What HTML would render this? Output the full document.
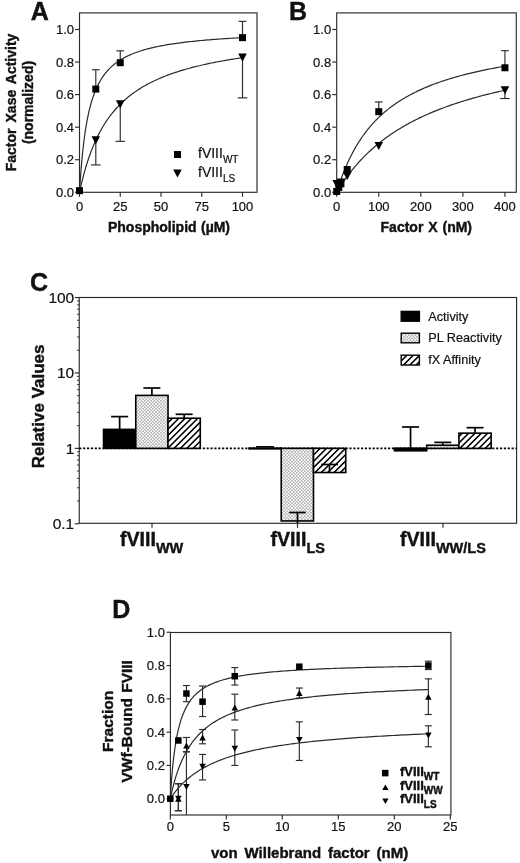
<!DOCTYPE html>
<html><head><meta charset="utf-8"><title>Figure</title>
<style>
html,body{margin:0;padding:0;background:#fff;}
svg{display:block;font-family:"Liberation Sans", sans-serif;fill:#111;will-change:transform;}
</style></head>
<body>
<svg width="520" height="863" viewBox="0 0 520 863">
<rect width="520" height="863" fill="#fff"/>
<rect x="79.50" y="12.90" width="177.50" height="179.40" fill="none" stroke="#2b2b2b" stroke-width="1.15"/>
<line x1="75.00" y1="192.30" x2="79.50" y2="192.30" stroke="#2b2b2b" stroke-width="1.15" />
<text x="74.00" y="196.80" font-size="13" stroke="#111" stroke-width="0.2" text-anchor="end" >0.0</text>
<line x1="75.00" y1="159.74" x2="79.50" y2="159.74" stroke="#2b2b2b" stroke-width="1.15" />
<text x="74.00" y="164.24" font-size="13" stroke="#111" stroke-width="0.2" text-anchor="end" >0.2</text>
<line x1="75.00" y1="127.18" x2="79.50" y2="127.18" stroke="#2b2b2b" stroke-width="1.15" />
<text x="74.00" y="131.68" font-size="13" stroke="#111" stroke-width="0.2" text-anchor="end" >0.4</text>
<line x1="75.00" y1="94.62" x2="79.50" y2="94.62" stroke="#2b2b2b" stroke-width="1.15" />
<text x="74.00" y="99.12" font-size="13" stroke="#111" stroke-width="0.2" text-anchor="end" >0.6</text>
<line x1="75.00" y1="62.06" x2="79.50" y2="62.06" stroke="#2b2b2b" stroke-width="1.15" />
<text x="74.00" y="66.56" font-size="13" stroke="#111" stroke-width="0.2" text-anchor="end" >0.8</text>
<line x1="75.00" y1="29.50" x2="79.50" y2="29.50" stroke="#2b2b2b" stroke-width="1.15" />
<text x="74.00" y="34.00" font-size="13" stroke="#111" stroke-width="0.2" text-anchor="end" >1.0</text>
<line x1="79.50" y1="192.30" x2="79.50" y2="196.80" stroke="#2b2b2b" stroke-width="1.15" />
<text x="79.50" y="211.30" font-size="13" stroke="#111" stroke-width="0.2" text-anchor="middle" >0</text>
<line x1="120.25" y1="192.30" x2="120.25" y2="196.80" stroke="#2b2b2b" stroke-width="1.15" />
<text x="120.25" y="211.30" font-size="13" stroke="#111" stroke-width="0.2" text-anchor="middle" >25</text>
<line x1="161.00" y1="192.30" x2="161.00" y2="196.80" stroke="#2b2b2b" stroke-width="1.15" />
<text x="161.00" y="211.30" font-size="13" stroke="#111" stroke-width="0.2" text-anchor="middle" >50</text>
<line x1="201.75" y1="192.30" x2="201.75" y2="196.80" stroke="#2b2b2b" stroke-width="1.15" />
<text x="201.75" y="211.30" font-size="13" stroke="#111" stroke-width="0.2" text-anchor="middle" >75</text>
<line x1="242.50" y1="192.30" x2="242.50" y2="196.80" stroke="#2b2b2b" stroke-width="1.15" />
<text x="242.50" y="211.30" font-size="13" stroke="#111" stroke-width="0.2" text-anchor="middle" >100</text>
<text x="30.80" y="20.30" font-size="25" font-weight="bold" stroke="#111" stroke-width="0.4" text-anchor="start" >A</text>
<text x="15.80" y="102.50" font-size="14" font-weight="bold" stroke="#111" stroke-width="0.4" text-anchor="middle" transform="rotate(-90 15.80 102.50)" word-spacing="2.2">Factor Xase Activity</text>
<text x="33.10" y="102.50" font-size="14" font-weight="bold" stroke="#111" stroke-width="0.4" text-anchor="middle" transform="rotate(-90 33.10 102.50)" >(normalized)</text>
<text x="169.00" y="232.40" font-size="14" font-weight="bold" stroke="#111" stroke-width="0.4" text-anchor="middle" word-spacing="0.5">Phospholipid (µM)</text>
<polyline points="79.50,192.30 79.51,192.16 79.53,191.74 79.57,191.05 79.63,190.09 79.71,188.88 79.80,187.41 79.91,185.72 80.03,183.81 80.17,181.70 80.33,179.41 80.51,176.96 80.70,174.36 80.91,171.64 81.13,168.81 81.37,165.90 81.63,162.91 81.90,159.87 82.19,156.80 82.50,153.70 82.83,150.59 83.17,147.48 83.53,144.39 83.90,141.32 84.29,138.28 84.70,135.28 85.12,132.33 85.56,129.43 86.02,126.59 86.49,123.81 86.98,121.09 87.49,118.44 88.02,115.86 88.56,113.34 89.11,110.90 89.69,108.52 90.28,106.21 90.89,103.98 91.51,101.81 92.15,99.71 92.81,97.68 93.48,95.71 94.17,93.80 94.88,91.96 95.60,90.18 96.34,88.46 97.10,86.80 97.87,85.19 98.66,83.64 99.47,82.14 100.29,80.69 101.13,79.29 101.99,77.93 102.86,76.63 103.75,75.36 104.66,74.14 105.58,72.96 106.52,71.82 107.48,70.72 108.45,69.66 109.44,68.63 110.45,67.63 111.47,66.67 112.51,65.74 113.56,64.83 114.64,63.96 115.73,63.12 116.83,62.30 117.95,61.51 119.09,60.75 120.25,60.01 121.42,59.29 122.61,58.59 123.82,57.92 125.04,57.26 126.28,56.63 127.54,56.02 128.81,55.42 130.10,54.84 131.40,54.28 132.72,53.74 134.06,53.21 135.42,52.70 136.79,52.20 138.18,51.71 139.59,51.24 141.01,50.79 142.45,50.34 143.90,49.91 145.37,49.49 146.86,49.08 148.37,48.69 149.89,48.30 151.43,47.93 152.98,47.56 154.55,47.20 156.14,46.86 157.75,46.52 159.37,46.19 161.01,45.87 162.66,45.56 164.33,45.26 166.02,44.96 167.73,44.67 169.45,44.39 171.19,44.11 172.94,43.85 174.71,43.58 176.50,43.33 178.31,43.08 180.13,42.84 181.97,42.60 183.82,42.37 185.69,42.14 187.58,41.92 189.48,41.71 191.40,41.50 193.34,41.29 195.30,41.09 197.27,40.89 199.26,40.70 201.26,40.51 203.28,40.33 205.32,40.15 207.37,39.97 209.44,39.80 211.53,39.63 213.63,39.47 215.75,39.31 217.89,39.15 220.05,38.99 222.22,38.84 224.40,38.69 226.61,38.55 228.83,38.41 231.07,38.27 233.32,38.13 235.59,38.00 237.88,37.87 240.18,37.74 242.50,37.61" fill="none" stroke="#2b2b2b" stroke-width="1.2" stroke-linejoin="round"/>
<polyline points="79.50,192.30 79.51,192.26 79.53,192.14 79.57,191.95 79.63,191.68 79.71,191.33 79.80,190.91 79.91,190.41 80.03,189.84 80.17,189.20 80.33,188.49 80.51,187.71 80.70,186.87 80.91,185.96 81.13,184.99 81.37,183.97 81.63,182.89 81.90,181.75 82.19,180.56 82.50,179.33 82.83,178.05 83.17,176.73 83.53,175.37 83.90,173.97 84.29,172.54 84.70,171.08 85.12,169.59 85.56,168.07 86.02,166.53 86.49,164.97 86.98,163.39 87.49,161.80 88.02,160.19 88.56,158.58 89.11,156.95 89.69,155.32 90.28,153.68 90.89,152.04 91.51,150.40 92.15,148.76 92.81,147.13 93.48,145.50 94.17,143.87 94.88,142.25 95.60,140.64 96.34,139.04 97.10,137.45 97.87,135.87 98.66,134.31 99.47,132.76 100.29,131.22 101.13,129.70 101.99,128.19 102.86,126.70 103.75,125.23 104.66,123.77 105.58,122.33 106.52,120.91 107.48,119.51 108.45,118.13 109.44,116.77 110.45,115.42 111.47,114.10 112.51,112.79 113.56,111.51 114.64,110.24 115.73,108.99 116.83,107.77 117.95,106.56 119.09,105.37 120.25,104.20 121.42,103.05 122.61,101.92 123.82,100.81 125.04,99.71 126.28,98.64 127.54,97.58 128.81,96.54 130.10,95.52 131.40,94.52 132.72,93.54 134.06,92.57 135.42,91.62 136.79,90.68 138.18,89.77 139.59,88.87 141.01,87.98 142.45,87.11 143.90,86.26 145.37,85.42 146.86,84.60 148.37,83.79 149.89,83.00 151.43,82.22 152.98,81.45 154.55,80.70 156.14,79.96 157.75,79.24 159.37,78.53 161.01,77.83 162.66,77.14 164.33,76.47 166.02,75.81 167.73,75.16 169.45,74.52 171.19,73.89 172.94,73.28 174.71,72.67 176.50,72.08 178.31,71.50 180.13,70.93 181.97,70.36 183.82,69.81 185.69,69.27 187.58,68.74 189.48,68.21 191.40,67.70 193.34,67.19 195.30,66.70 197.27,66.21 199.26,65.73 201.26,65.26 203.28,64.79 205.32,64.34 207.37,63.89 209.44,63.45 211.53,63.02 213.63,62.60 215.75,62.18 217.89,61.77 220.05,61.37 222.22,60.97 224.40,60.58 226.61,60.20 228.83,59.82 231.07,59.45 233.32,59.08 235.59,58.73 237.88,58.37 240.18,58.03 242.50,57.68" fill="none" stroke="#2b2b2b" stroke-width="1.2" stroke-linejoin="round"/>
<line x1="95.80" y1="69.71" x2="95.80" y2="89.08" stroke="#2b2b2b" stroke-width="1.15" />
<line x1="91.95" y1="69.71" x2="99.65" y2="69.71" stroke="#2b2b2b" stroke-width="1.15" />
<line x1="120.25" y1="50.83" x2="120.25" y2="62.71" stroke="#2b2b2b" stroke-width="1.15" />
<line x1="116.40" y1="50.83" x2="124.10" y2="50.83" stroke="#2b2b2b" stroke-width="1.15" />
<line x1="242.50" y1="21.36" x2="242.50" y2="37.64" stroke="#2b2b2b" stroke-width="1.15" />
<line x1="238.65" y1="21.36" x2="246.35" y2="21.36" stroke="#2b2b2b" stroke-width="1.15" />
<line x1="95.80" y1="140.20" x2="95.80" y2="164.95" stroke="#2b2b2b" stroke-width="1.15" />
<line x1="91.00" y1="164.95" x2="100.60" y2="164.95" stroke="#2b2b2b" stroke-width="1.15" />
<line x1="120.25" y1="104.39" x2="120.25" y2="141.34" stroke="#2b2b2b" stroke-width="1.15" />
<line x1="115.45" y1="141.34" x2="125.05" y2="141.34" stroke="#2b2b2b" stroke-width="1.15" />
<line x1="242.50" y1="57.66" x2="242.50" y2="97.88" stroke="#2b2b2b" stroke-width="1.15" />
<line x1="237.70" y1="97.88" x2="247.30" y2="97.88" stroke="#2b2b2b" stroke-width="1.15" />
<rect x="76.00" y="187.17" width="7" height="7" fill="#000"/>
<rect x="92.30" y="85.58" width="7" height="7" fill="#000"/>
<rect x="116.75" y="59.21" width="7" height="7" fill="#000"/>
<rect x="239.00" y="34.14" width="7" height="7" fill="#000"/>
<polygon points="91.50,136.15 100.10,136.15 95.80,144.25" fill="#000"/>
<polygon points="115.95,100.34 124.55,100.34 120.25,108.44" fill="#000"/>
<polygon points="238.20,53.61 246.80,53.61 242.50,61.71" fill="#000"/>
<rect x="174.00" y="151.00" width="7" height="7" fill="#000"/>
<polygon points="173.20,169.45 181.80,169.45 177.50,177.55" fill="#000"/>
<text x="198.00" y="158.00" font-size="14" stroke="#111" stroke-width="0.2" text-anchor="start">fVIII<tspan font-size="10" dy="4.5">WT</tspan></text>
<text x="198.00" y="177.00" font-size="14" stroke="#111" stroke-width="0.2" text-anchor="start">fVIII<tspan font-size="10" dy="4.5">LS</tspan></text>
<rect x="336.70" y="12.90" width="179.60" height="179.40" fill="none" stroke="#2b2b2b" stroke-width="1.15"/>
<line x1="332.20" y1="192.30" x2="336.70" y2="192.30" stroke="#2b2b2b" stroke-width="1.15" />
<text x="331.20" y="196.80" font-size="13" stroke="#111" stroke-width="0.2" text-anchor="end" >0.0</text>
<line x1="332.20" y1="159.74" x2="336.70" y2="159.74" stroke="#2b2b2b" stroke-width="1.15" />
<text x="331.20" y="164.24" font-size="13" stroke="#111" stroke-width="0.2" text-anchor="end" >0.2</text>
<line x1="332.20" y1="127.18" x2="336.70" y2="127.18" stroke="#2b2b2b" stroke-width="1.15" />
<text x="331.20" y="131.68" font-size="13" stroke="#111" stroke-width="0.2" text-anchor="end" >0.4</text>
<line x1="332.20" y1="94.62" x2="336.70" y2="94.62" stroke="#2b2b2b" stroke-width="1.15" />
<text x="331.20" y="99.12" font-size="13" stroke="#111" stroke-width="0.2" text-anchor="end" >0.6</text>
<line x1="332.20" y1="62.06" x2="336.70" y2="62.06" stroke="#2b2b2b" stroke-width="1.15" />
<text x="331.20" y="66.56" font-size="13" stroke="#111" stroke-width="0.2" text-anchor="end" >0.8</text>
<line x1="332.20" y1="29.50" x2="336.70" y2="29.50" stroke="#2b2b2b" stroke-width="1.15" />
<text x="331.20" y="34.00" font-size="13" stroke="#111" stroke-width="0.2" text-anchor="end" >1.0</text>
<line x1="336.70" y1="192.30" x2="336.70" y2="196.80" stroke="#2b2b2b" stroke-width="1.15" />
<text x="336.70" y="211.30" font-size="13" stroke="#111" stroke-width="0.2" text-anchor="middle" >0</text>
<line x1="378.76" y1="192.30" x2="378.76" y2="196.80" stroke="#2b2b2b" stroke-width="1.15" />
<text x="378.76" y="211.30" font-size="13" stroke="#111" stroke-width="0.2" text-anchor="middle" >100</text>
<line x1="420.82" y1="192.30" x2="420.82" y2="196.80" stroke="#2b2b2b" stroke-width="1.15" />
<text x="420.82" y="211.30" font-size="13" stroke="#111" stroke-width="0.2" text-anchor="middle" >200</text>
<line x1="462.88" y1="192.30" x2="462.88" y2="196.80" stroke="#2b2b2b" stroke-width="1.15" />
<text x="462.88" y="211.30" font-size="13" stroke="#111" stroke-width="0.2" text-anchor="middle" >300</text>
<line x1="504.94" y1="192.30" x2="504.94" y2="196.80" stroke="#2b2b2b" stroke-width="1.15" />
<text x="504.94" y="211.30" font-size="13" stroke="#111" stroke-width="0.2" text-anchor="middle" >400</text>
<text x="289.00" y="20.30" font-size="25" font-weight="bold" stroke="#111" stroke-width="0.4" text-anchor="start" >B</text>
<text x="426.30" y="232.40" font-size="14" font-weight="bold" stroke="#111" stroke-width="0.4" text-anchor="middle" word-spacing="1">Factor X (nM)</text>
<polyline points="336.70,192.30 336.71,192.27 336.73,192.19 336.78,192.05 336.84,191.85 336.91,191.60 337.01,191.29 337.12,190.93 337.25,190.52 337.40,190.05 337.56,189.53 337.74,188.96 337.94,188.34 338.15,187.67 338.38,186.95 338.63,186.19 338.90,185.39 339.18,184.54 339.48,183.65 339.80,182.72 340.13,181.75 340.49,180.74 340.85,179.70 341.24,178.63 341.64,177.53 342.06,176.39 342.50,175.23 342.96,174.04 343.43,172.83 343.92,171.59 344.43,170.33 344.95,169.06 345.49,167.76 346.05,166.45 346.62,165.12 347.21,163.78 347.82,162.43 348.45,161.07 349.09,159.70 349.76,158.33 350.43,156.94 351.13,155.56 351.84,154.16 352.57,152.77 353.32,151.38 354.08,149.98 354.86,148.59 355.66,147.20 356.48,145.81 357.31,144.43 358.16,143.05 359.03,141.67 359.91,140.31 360.81,138.95 361.73,137.60 362.67,136.25 363.62,134.92 364.59,133.59 365.58,132.28 366.58,130.97 367.60,129.68 368.64,128.40 369.70,127.13 370.77,125.87 371.86,124.62 372.97,123.39 374.09,122.17 375.23,120.96 376.39,119.77 377.57,118.59 378.76,117.43 379.97,116.27 381.20,115.13 382.44,114.01 383.70,112.90 384.98,111.80 386.28,110.72 387.59,109.65 388.92,108.60 390.27,107.56 391.64,106.53 393.02,105.52 394.42,104.52 395.83,103.54 397.27,102.57 398.72,101.61 400.18,100.67 401.67,99.74 403.17,98.82 404.69,97.92 406.23,97.03 407.78,96.15 409.35,95.29 410.94,94.44 412.55,93.60 414.17,92.77 415.81,91.96 417.46,91.16 419.14,90.37 420.83,89.59 422.54,88.83 424.26,88.07 426.00,87.33 427.76,86.60 429.54,85.88 431.33,85.17 433.15,84.48 434.97,83.79 436.82,83.11 438.68,82.45 440.56,81.79 442.46,81.14 444.37,80.51 446.30,79.88 448.25,79.27 450.22,78.66 452.20,78.06 454.20,77.47 456.22,76.89 458.25,76.32 460.30,75.76 462.37,75.21 464.46,74.66 466.56,74.13 468.68,73.60 470.82,73.08 472.97,72.57 475.15,72.06 477.33,71.57 479.54,71.08 481.76,70.59 484.00,70.12 486.26,69.65 488.54,69.19 490.83,68.74 493.14,68.29 495.46,67.85 497.81,67.42 500.17,66.99 502.55,66.57 504.94,66.16" fill="none" stroke="#2b2b2b" stroke-width="1.2" stroke-linejoin="round"/>
<polyline points="336.70,192.30 336.71,192.29 336.73,192.24 336.78,192.17 336.84,192.07 336.91,191.94 337.01,191.78 337.12,191.60 337.25,191.38 337.40,191.14 337.56,190.87 337.74,190.58 337.94,190.25 338.15,189.90 338.38,189.53 338.63,189.13 338.90,188.70 339.18,188.25 339.48,187.77 339.80,187.27 340.13,186.74 340.49,186.20 340.85,185.63 341.24,185.03 341.64,184.42 342.06,183.79 342.50,183.13 342.96,182.46 343.43,181.76 343.92,181.05 344.43,180.32 344.95,179.57 345.49,178.81 346.05,178.03 346.62,177.23 347.21,176.42 347.82,175.60 348.45,174.76 349.09,173.91 349.76,173.05 350.43,172.17 351.13,171.29 351.84,170.39 352.57,169.49 353.32,168.58 354.08,167.65 354.86,166.72 355.66,165.78 356.48,164.84 357.31,163.89 358.16,162.93 359.03,161.97 359.91,161.00 360.81,160.03 361.73,159.06 362.67,158.08 363.62,157.10 364.59,156.12 365.58,155.14 366.58,154.15 367.60,153.17 368.64,152.18 369.70,151.20 370.77,150.21 371.86,149.23 372.97,148.25 374.09,147.26 375.23,146.29 376.39,145.31 377.57,144.33 378.76,143.36 379.97,142.39 381.20,141.43 382.44,140.46 383.70,139.51 384.98,138.55 386.28,137.60 387.59,136.66 388.92,135.72 390.27,134.78 391.64,133.85 393.02,132.93 394.42,132.01 395.83,131.09 397.27,130.18 398.72,129.28 400.18,128.39 401.67,127.50 403.17,126.61 404.69,125.74 406.23,124.87 407.78,124.00 409.35,123.15 410.94,122.30 412.55,121.45 414.17,120.62 415.81,119.79 417.46,118.96 419.14,118.15 420.83,117.34 422.54,116.54 424.26,115.74 426.00,114.96 427.76,114.18 429.54,113.40 431.33,112.64 433.15,111.88 434.97,111.13 436.82,110.38 438.68,109.65 440.56,108.92 442.46,108.19 444.37,107.48 446.30,106.77 448.25,106.07 450.22,105.38 452.20,104.69 454.20,104.01 456.22,103.34 458.25,102.67 460.30,102.01 462.37,101.36 464.46,100.71 466.56,100.07 468.68,99.44 470.82,98.82 472.97,98.20 475.15,97.59 477.33,96.98 479.54,96.38 481.76,95.79 484.00,95.20 486.26,94.62 488.54,94.05 490.83,93.48 493.14,92.92 495.46,92.37 497.81,91.82 500.17,91.27 502.55,90.74 504.94,90.21" fill="none" stroke="#2b2b2b" stroke-width="1.2" stroke-linejoin="round"/>
<line x1="378.76" y1="101.95" x2="378.76" y2="111.71" stroke="#2b2b2b" stroke-width="1.15" />
<line x1="374.91" y1="101.95" x2="382.61" y2="101.95" stroke="#2b2b2b" stroke-width="1.15" />
<line x1="504.94" y1="50.66" x2="504.94" y2="67.76" stroke="#2b2b2b" stroke-width="1.15" />
<line x1="501.09" y1="50.66" x2="508.79" y2="50.66" stroke="#2b2b2b" stroke-width="1.15" />
<line x1="504.94" y1="90.22" x2="504.94" y2="98.53" stroke="#2b2b2b" stroke-width="1.15" />
<line x1="500.14" y1="98.53" x2="509.74" y2="98.53" stroke="#2b2b2b" stroke-width="1.15" />
<polygon points="332.40,180.11 341.00,180.11 336.70,188.21" fill="#000"/>
<polygon points="334.50,181.74 343.10,181.74 338.80,189.84" fill="#000"/>
<polygon points="336.61,178.48 345.21,178.48 340.91,186.58" fill="#000"/>
<polygon points="342.91,171.97 351.51,171.97 347.21,180.07" fill="#000"/>
<polygon points="374.46,142.01 383.06,142.01 378.76,150.11" fill="#000"/>
<polygon points="500.64,86.17 509.24,86.17 504.94,94.27" fill="#000"/>
<rect x="333.20" y="187.99" width="7" height="7" fill="#000"/>
<rect x="335.30" y="183.92" width="7" height="7" fill="#000"/>
<rect x="337.41" y="180.33" width="7" height="7" fill="#000"/>
<rect x="343.71" y="166.01" width="7" height="7" fill="#000"/>
<rect x="375.26" y="108.21" width="7" height="7" fill="#000"/>
<rect x="501.44" y="64.26" width="7" height="7" fill="#000"/>
<defs>
<pattern id="dots" width="3.2" height="3.2" patternUnits="userSpaceOnUse"><rect width="3.2" height="3.2" fill="#fbfbfb"/><circle cx="0.8" cy="0.8" r="0.58" fill="#4a4a4a"/><circle cx="2.4" cy="2.4" r="0.58" fill="#4a4a4a"/></pattern>
</defs>
<rect x="79.25" y="297.50" width="437.35" height="225.80" fill="none" stroke="#2b2b2b" stroke-width="1.15"/>
<line x1="74.75" y1="297.55" x2="79.25" y2="297.55" stroke="#2b2b2b" stroke-width="1.15" />
<text x="74.25" y="302.95" font-size="15.5" stroke="#111" stroke-width="0.2" text-anchor="end" >100</text>
<line x1="74.75" y1="372.95" x2="79.25" y2="372.95" stroke="#2b2b2b" stroke-width="1.15" />
<text x="74.25" y="378.35" font-size="15.5" stroke="#111" stroke-width="0.2" text-anchor="end" >10</text>
<line x1="74.75" y1="448.35" x2="79.25" y2="448.35" stroke="#2b2b2b" stroke-width="1.15" />
<text x="74.25" y="453.75" font-size="15.5" stroke="#111" stroke-width="0.2" text-anchor="end" >1</text>
<line x1="74.75" y1="523.75" x2="79.25" y2="523.75" stroke="#2b2b2b" stroke-width="1.15" />
<text x="74.25" y="529.15" font-size="15.5" stroke="#111" stroke-width="0.2" text-anchor="end" >0.1</text>
<line x1="76.95" y1="501.05" x2="79.25" y2="501.05" stroke="#2b2b2b" stroke-width="0.9" />
<line x1="76.95" y1="487.78" x2="79.25" y2="487.78" stroke="#2b2b2b" stroke-width="0.9" />
<line x1="76.95" y1="478.35" x2="79.25" y2="478.35" stroke="#2b2b2b" stroke-width="0.9" />
<line x1="76.95" y1="471.05" x2="79.25" y2="471.05" stroke="#2b2b2b" stroke-width="0.9" />
<line x1="76.95" y1="465.08" x2="79.25" y2="465.08" stroke="#2b2b2b" stroke-width="0.9" />
<line x1="76.95" y1="460.03" x2="79.25" y2="460.03" stroke="#2b2b2b" stroke-width="0.9" />
<line x1="76.95" y1="455.66" x2="79.25" y2="455.66" stroke="#2b2b2b" stroke-width="0.9" />
<line x1="76.95" y1="451.80" x2="79.25" y2="451.80" stroke="#2b2b2b" stroke-width="0.9" />
<line x1="76.95" y1="425.65" x2="79.25" y2="425.65" stroke="#2b2b2b" stroke-width="0.9" />
<line x1="76.95" y1="412.38" x2="79.25" y2="412.38" stroke="#2b2b2b" stroke-width="0.9" />
<line x1="76.95" y1="402.95" x2="79.25" y2="402.95" stroke="#2b2b2b" stroke-width="0.9" />
<line x1="76.95" y1="395.65" x2="79.25" y2="395.65" stroke="#2b2b2b" stroke-width="0.9" />
<line x1="76.95" y1="389.68" x2="79.25" y2="389.68" stroke="#2b2b2b" stroke-width="0.9" />
<line x1="76.95" y1="384.63" x2="79.25" y2="384.63" stroke="#2b2b2b" stroke-width="0.9" />
<line x1="76.95" y1="380.26" x2="79.25" y2="380.26" stroke="#2b2b2b" stroke-width="0.9" />
<line x1="76.95" y1="376.40" x2="79.25" y2="376.40" stroke="#2b2b2b" stroke-width="0.9" />
<line x1="76.95" y1="350.25" x2="79.25" y2="350.25" stroke="#2b2b2b" stroke-width="0.9" />
<line x1="76.95" y1="336.98" x2="79.25" y2="336.98" stroke="#2b2b2b" stroke-width="0.9" />
<line x1="76.95" y1="327.55" x2="79.25" y2="327.55" stroke="#2b2b2b" stroke-width="0.9" />
<line x1="76.95" y1="320.25" x2="79.25" y2="320.25" stroke="#2b2b2b" stroke-width="0.9" />
<line x1="76.95" y1="314.28" x2="79.25" y2="314.28" stroke="#2b2b2b" stroke-width="0.9" />
<line x1="76.95" y1="309.23" x2="79.25" y2="309.23" stroke="#2b2b2b" stroke-width="0.9" />
<line x1="76.95" y1="304.86" x2="79.25" y2="304.86" stroke="#2b2b2b" stroke-width="0.9" />
<line x1="76.95" y1="301.00" x2="79.25" y2="301.00" stroke="#2b2b2b" stroke-width="0.9" />
<text x="30.00" y="290.60" font-size="25" font-weight="bold" stroke="#111" stroke-width="0.4" text-anchor="start" >C</text>
<text x="44.30" y="406.40" font-size="17" font-weight="bold" stroke="#111" stroke-width="0.4" text-anchor="middle" transform="rotate(-90 44.30 406.40)" >Relative Values</text>
<line x1="79.25" y1="448.35" x2="516.60" y2="448.35" stroke="#000" stroke-width="1.8" stroke-dasharray="2.15 1.71"/>
<line x1="119.65" y1="416.60" x2="119.65" y2="429.39" stroke="#000" stroke-width="1.7" />
<line x1="111.15" y1="416.60" x2="128.15" y2="416.60" stroke="#000" stroke-width="1.7" />
<line x1="151.90" y1="388.00" x2="151.90" y2="395.39" stroke="#000" stroke-width="1.7" />
<line x1="143.40" y1="388.00" x2="160.40" y2="388.00" stroke="#000" stroke-width="1.7" />
<line x1="184.15" y1="414.30" x2="184.15" y2="418.21" stroke="#000" stroke-width="1.7" />
<line x1="175.65" y1="414.30" x2="192.65" y2="414.30" stroke="#000" stroke-width="1.7" />
<rect x="103.53" y="429.39" width="32.25" height="18.96" fill="#000" stroke="#000" stroke-width="1.6"/>
<rect x="135.78" y="395.39" width="32.25" height="52.96" fill="url(#dots)" stroke="#000" stroke-width="1.6"/>
<clipPath id="hc1"><rect x="168.03" y="418.21" width="32.25" height="30.14"/></clipPath>
<rect x="168.03" y="418.21" width="32.25" height="30.14" fill="#fff"/>
<path d="M166.03,411.98 L202.28,375.73 M166.03,418.32 L202.28,382.07 M166.03,424.67 L202.28,388.42 M166.03,431.02 L202.28,394.77 M166.03,437.38 L202.28,401.12 M166.03,443.72 L202.28,407.47 M166.03,450.07 L202.28,413.82 M166.03,456.42 L202.28,420.17 M166.03,462.77 L202.28,426.52 M166.03,469.12 L202.28,432.88 M166.03,475.47 L202.28,439.22 M166.03,481.82 L202.28,445.57 M166.03,488.17 L202.28,451.92 M166.03,494.52 L202.28,458.27" stroke="#000" stroke-width="1.55" fill="none" clip-path="url(#hc1)"/>
<rect x="168.03" y="418.21" width="32.25" height="30.14" fill="none" stroke="#000" stroke-width="1.6"/>
<rect x="248.18" y="447.3" width="33.85" height="2.3" fill="#000"/>
<line x1="256.10" y1="446.80" x2="274.00" y2="446.80" stroke="#000" stroke-width="1.5" />
<rect x="281.23" y="448.35" width="32.25" height="72.58" fill="url(#dots)" stroke="#000" stroke-width="1.6"/>
<clipPath id="hc2"><rect x="313.48" y="448.35" width="32.25" height="24.17"/></clipPath>
<rect x="313.48" y="448.35" width="32.25" height="24.17" fill="#fff"/>
<path d="M311.48,437.97 L347.73,401.72 M311.48,444.32 L347.73,408.07 M311.48,450.67 L347.73,414.42 M311.48,457.02 L347.73,420.77 M311.48,463.37 L347.73,427.12 M311.48,469.72 L347.73,433.47 M311.48,476.07 L347.73,439.82 M311.48,482.42 L347.73,446.17 M311.48,488.77 L347.73,452.52 M311.48,495.12 L347.73,458.87 M311.48,501.47 L347.73,465.22 M311.48,507.82 L347.73,471.57 M311.48,514.17 L347.73,477.92" stroke="#000" stroke-width="1.55" fill="none" clip-path="url(#hc2)"/>
<rect x="313.48" y="448.35" width="32.25" height="24.17" fill="none" stroke="#000" stroke-width="1.6"/>
<line x1="297.50" y1="512.50" x2="297.50" y2="523.30" stroke="#000" stroke-width="1.7" />
<line x1="289.25" y1="512.50" x2="305.75" y2="512.50" stroke="#000" stroke-width="1.7" />
<line x1="329.50" y1="464.50" x2="329.50" y2="472.50" stroke="#000" stroke-width="1.7" />
<line x1="321.25" y1="464.50" x2="338.00" y2="464.50" stroke="#000" stroke-width="1.7" />
<line x1="410.55" y1="426.99" x2="410.55" y2="448.35" stroke="#000" stroke-width="1.7" />
<line x1="402.05" y1="426.99" x2="419.05" y2="426.99" stroke="#000" stroke-width="1.7" />
<line x1="442.80" y1="442.38" x2="442.80" y2="445.23" stroke="#000" stroke-width="1.7" />
<line x1="434.30" y1="442.38" x2="451.30" y2="442.38" stroke="#000" stroke-width="1.7" />
<line x1="475.05" y1="427.68" x2="475.05" y2="433.16" stroke="#000" stroke-width="1.7" />
<line x1="466.55" y1="427.68" x2="483.55" y2="427.68" stroke="#000" stroke-width="1.7" />
<rect x="393.62" y="447.4" width="33.85" height="4.2" fill="#000"/>
<rect x="426.68" y="445.23" width="32.25" height="3.12" fill="url(#dots)" stroke="#000" stroke-width="1.6"/>
<clipPath id="hc3"><rect x="458.93" y="433.16" width="32.25" height="15.19"/></clipPath>
<rect x="458.93" y="433.16" width="32.25" height="15.19" fill="#fff"/>
<path d="M456.93,425.87 L493.18,389.62 M456.93,432.22 L493.18,395.97 M456.93,438.57 L493.18,402.32 M456.93,444.92 L493.18,408.67 M456.93,451.27 L493.18,415.02 M456.93,457.62 L493.18,421.37 M456.93,463.97 L493.18,427.72 M456.93,470.32 L493.18,434.07 M456.93,476.67 L493.18,440.42 M456.93,483.02 L493.18,446.77 M456.93,489.37 L493.18,453.12" stroke="#000" stroke-width="1.55" fill="none" clip-path="url(#hc3)"/>
<rect x="458.93" y="433.16" width="32.25" height="15.19" fill="none" stroke="#000" stroke-width="1.6"/>
<line x1="152.00" y1="523.30" x2="152.00" y2="527.80" stroke="#2b2b2b" stroke-width="1.15" />
<line x1="297.50" y1="523.30" x2="297.50" y2="527.80" stroke="#2b2b2b" stroke-width="1.15" />
<line x1="443.00" y1="523.30" x2="443.00" y2="527.80" stroke="#2b2b2b" stroke-width="1.15" />
<text x="120.00" y="546.30" font-size="19.6" font-weight="bold" stroke="#111" stroke-width="0.4" text-anchor="start">fVIII<tspan font-size="14.5" dy="6.2">WW</tspan></text>
<text x="270.50" y="546.30" font-size="19.6" font-weight="bold" stroke="#111" stroke-width="0.4" text-anchor="start">fVIII<tspan font-size="14.5" dy="6.2">LS</tspan></text>
<text x="400.00" y="546.30" font-size="19.6" font-weight="bold" stroke="#111" stroke-width="0.4" text-anchor="start">fVIII<tspan font-size="14.5" dy="6.2">WW/LS</tspan></text>
<rect x="401.2" y="311.4" width="18.2" height="9.8" fill="#000" stroke="#000" stroke-width="1.4"/>
<rect x="401.2" y="333.2" width="18.2" height="9.6" fill="url(#dots)" stroke="#000" stroke-width="1.4"/>
<clipPath id="hc4"><rect x="401.20" y="355.20" width="18.20" height="9.80"/></clipPath>
<rect x="401.20" y="355.20" width="18.20" height="9.80" fill="#fff"/>
<path d="M399.20,350.25 L421.40,328.05 M399.20,356.60 L421.40,334.40 M399.20,362.95 L421.40,340.75 M399.20,369.30 L421.40,347.10 M399.20,375.65 L421.40,353.45 M399.20,382.00 L421.40,359.80 M399.20,388.35 L421.40,366.15 M399.20,394.70 L421.40,372.50" stroke="#000" stroke-width="1.55" fill="none" clip-path="url(#hc4)"/>
<rect x="401.20" y="355.20" width="18.20" height="9.80" fill="none" stroke="#000" stroke-width="1.4"/>
<text x="428.25" y="320.50" font-size="12.7" stroke="#111" stroke-width="0.2" text-anchor="start" >Activity</text>
<text x="428.25" y="342.00" font-size="12.7" stroke="#111" stroke-width="0.2" text-anchor="start" >PL Reactivity</text>
<text x="428.25" y="364.25" font-size="12.7" stroke="#111" stroke-width="0.2" text-anchor="start" >fX Affinity</text>
<rect x="170.40" y="632.50" width="280.50" height="182.50" fill="none" stroke="#2b2b2b" stroke-width="1.15"/>
<line x1="166.60" y1="798.75" x2="170.40" y2="798.75" stroke="#2b2b2b" stroke-width="1.15" />
<text x="164.90" y="803.35" font-size="13" stroke="#111" stroke-width="0.2" text-anchor="end" >0.0</text>
<line x1="166.60" y1="765.45" x2="170.40" y2="765.45" stroke="#2b2b2b" stroke-width="1.15" />
<text x="164.90" y="770.05" font-size="13" stroke="#111" stroke-width="0.2" text-anchor="end" >0.2</text>
<line x1="166.60" y1="732.15" x2="170.40" y2="732.15" stroke="#2b2b2b" stroke-width="1.15" />
<text x="164.90" y="736.75" font-size="13" stroke="#111" stroke-width="0.2" text-anchor="end" >0.4</text>
<line x1="166.60" y1="698.85" x2="170.40" y2="698.85" stroke="#2b2b2b" stroke-width="1.15" />
<text x="164.90" y="703.45" font-size="13" stroke="#111" stroke-width="0.2" text-anchor="end" >0.6</text>
<line x1="166.60" y1="665.55" x2="170.40" y2="665.55" stroke="#2b2b2b" stroke-width="1.15" />
<text x="164.90" y="670.15" font-size="13" stroke="#111" stroke-width="0.2" text-anchor="end" >0.8</text>
<line x1="166.60" y1="632.25" x2="170.40" y2="632.25" stroke="#2b2b2b" stroke-width="1.15" />
<text x="164.90" y="636.85" font-size="13" stroke="#111" stroke-width="0.2" text-anchor="end" >1.0</text>
<line x1="170.30" y1="815.00" x2="170.30" y2="819.50" stroke="#2b2b2b" stroke-width="1.15" />
<text x="170.30" y="831.25" font-size="13" stroke="#111" stroke-width="0.2" text-anchor="middle" >0</text>
<line x1="226.30" y1="815.00" x2="226.30" y2="819.50" stroke="#2b2b2b" stroke-width="1.15" />
<text x="226.30" y="831.25" font-size="13" stroke="#111" stroke-width="0.2" text-anchor="middle" >5</text>
<line x1="282.30" y1="815.00" x2="282.30" y2="819.50" stroke="#2b2b2b" stroke-width="1.15" />
<text x="282.30" y="831.25" font-size="13" stroke="#111" stroke-width="0.2" text-anchor="middle" >10</text>
<line x1="338.30" y1="815.00" x2="338.30" y2="819.50" stroke="#2b2b2b" stroke-width="1.15" />
<text x="338.30" y="831.25" font-size="13" stroke="#111" stroke-width="0.2" text-anchor="middle" >15</text>
<line x1="394.30" y1="815.00" x2="394.30" y2="819.50" stroke="#2b2b2b" stroke-width="1.15" />
<text x="394.30" y="831.25" font-size="13" stroke="#111" stroke-width="0.2" text-anchor="middle" >20</text>
<line x1="450.30" y1="815.00" x2="450.30" y2="819.50" stroke="#2b2b2b" stroke-width="1.15" />
<text x="450.30" y="831.25" font-size="13" stroke="#111" stroke-width="0.2" text-anchor="middle" >25</text>
<text x="112.20" y="617.60" font-size="25" font-weight="bold" stroke="#111" stroke-width="0.4" text-anchor="start" >D</text>
<text x="113.00" y="721.30" font-size="15.5" font-weight="bold" stroke="#111" stroke-width="0.4" text-anchor="middle" transform="rotate(-90 113.00 721.30)" >Fraction</text>
<text x="131.70" y="721.30" font-size="15.5" font-weight="bold" stroke="#111" stroke-width="0.4" text-anchor="middle" transform="rotate(-90 131.70 721.30)" word-spacing="1">VWf-Bound FVIII</text>
<text x="309.60" y="857.80" font-size="15" font-weight="bold" stroke="#111" stroke-width="0.4" text-anchor="middle" word-spacing="2.7">von Willebrand factor (nM)</text>
<polyline points="170.30,798.75 170.31,798.52 170.35,797.84 170.42,796.72 170.51,795.18 170.63,793.25 170.77,790.96 170.95,788.37 171.14,785.50 171.37,782.40 171.62,779.11 171.89,775.69 172.20,772.16 172.53,768.56 172.88,764.93 173.26,761.30 173.67,757.69 174.10,754.13 174.57,750.63 175.05,747.21 175.57,743.88 176.11,740.65 176.67,737.52 177.26,734.51 177.88,731.60 178.53,728.82 179.20,726.14 179.90,723.59 180.62,721.14 181.37,718.80 182.15,716.56 182.95,714.43 183.78,712.40 184.64,710.46 185.52,708.62 186.43,706.86 187.36,705.18 188.32,703.58 189.31,702.06 190.33,700.61 191.37,699.23 192.43,697.91 193.52,696.65 194.64,695.45 195.79,694.31 196.96,693.22 198.16,692.18 199.38,691.18 200.63,690.23 201.91,689.33 203.21,688.46 204.54,687.63 205.90,686.83 207.28,686.07 208.69,685.35 210.13,684.65 211.59,683.98 213.08,683.34 214.59,682.73 216.13,682.14 217.70,681.57 219.29,681.03 220.91,680.50 222.55,680.00 224.23,679.52 225.93,679.06 227.65,678.61 229.40,678.18 231.18,677.77 232.98,677.37 234.81,676.98 236.67,676.61 238.55,676.26 240.46,675.91 242.40,675.58 244.36,675.26 246.35,674.95 248.36,674.65 250.40,674.36 252.47,674.08 254.56,673.81 256.68,673.55 258.83,673.30 261.00,673.05 263.20,672.81 265.42,672.59 267.67,672.36 269.95,672.15 272.26,671.94 274.59,671.74 276.94,671.54 279.33,671.35 281.73,671.16 284.17,670.98 286.63,670.81 289.12,670.64 291.64,670.48 294.18,670.32 296.74,670.16 299.34,670.01 301.96,669.86 304.60,669.72 307.28,669.58 309.98,669.44 312.70,669.31 315.45,669.18 318.23,669.06 321.03,668.94 323.86,668.82 326.72,668.70 329.61,668.59 332.51,668.48 335.45,668.38 338.41,668.27 341.40,668.17 344.42,668.07 347.46,667.97 350.53,667.88 353.62,667.79 356.74,667.70 359.89,667.61 363.06,667.52 366.26,667.44 369.48,667.36 372.74,667.28 376.01,667.20 379.32,667.12 382.65,667.05 386.01,666.98 389.39,666.90 392.80,666.83 396.24,666.77 399.70,666.70 403.19,666.63 406.70,666.57 410.25,666.51 413.81,666.45 417.41,666.39 421.03,666.33 424.67,666.27 428.35,666.21" fill="none" stroke="#2b2b2b" stroke-width="1.2" stroke-linejoin="round"/>
<polyline points="170.30,798.75 170.31,798.69 170.35,798.49 170.42,798.18 170.51,797.74 170.63,797.17 170.77,796.49 170.95,795.70 171.14,794.79 171.37,793.79 171.62,792.68 171.89,791.48 172.20,790.20 172.53,788.84 172.88,787.41 173.26,785.91 173.67,784.35 174.10,782.75 174.57,781.09 175.05,779.40 175.57,777.68 176.11,775.93 176.67,774.17 177.26,772.38 177.88,770.59 178.53,768.80 179.20,767.00 179.90,765.21 180.62,763.43 181.37,761.65 182.15,759.90 182.95,758.16 183.78,756.44 184.64,754.74 185.52,753.07 186.43,751.42 187.36,749.80 188.32,748.20 189.31,746.64 190.33,745.11 191.37,743.61 192.43,742.13 193.52,740.70 194.64,739.29 195.79,737.91 196.96,736.57 198.16,735.26 199.38,733.98 200.63,732.73 201.91,731.51 203.21,730.33 204.54,729.17 205.90,728.04 207.28,726.94 208.69,725.88 210.13,724.83 211.59,723.82 213.08,722.83 214.59,721.87 216.13,720.94 217.70,720.03 219.29,719.14 220.91,718.28 222.55,717.44 224.23,716.63 225.93,715.83 227.65,715.06 229.40,714.31 231.18,713.58 232.98,712.86 234.81,712.17 236.67,711.50 238.55,710.84 240.46,710.20 242.40,709.58 244.36,708.97 246.35,708.38 248.36,707.81 250.40,707.25 252.47,706.71 254.56,706.17 256.68,705.66 258.83,705.15 261.00,704.66 263.20,704.19 265.42,703.72 267.67,703.27 269.95,702.82 272.26,702.39 274.59,701.97 276.94,701.56 279.33,701.16 281.73,700.77 284.17,700.39 286.63,700.02 289.12,699.65 291.64,699.30 294.18,698.95 296.74,698.62 299.34,698.29 301.96,697.97 304.60,697.65 307.28,697.34 309.98,697.04 312.70,696.75 315.45,696.47 318.23,696.19 321.03,695.91 323.86,695.65 326.72,695.39 329.61,695.13 332.51,694.88 335.45,694.64 338.41,694.40 341.40,694.16 344.42,693.94 347.46,693.71 350.53,693.49 353.62,693.28 356.74,693.07 359.89,692.86 363.06,692.66 366.26,692.47 369.48,692.27 372.74,692.09 376.01,691.90 379.32,691.72 382.65,691.54 386.01,691.37 389.39,691.20 392.80,691.03 396.24,690.87 399.70,690.71 403.19,690.55 406.70,690.40 410.25,690.25 413.81,690.10 417.41,689.95 421.03,689.81 424.67,689.67 428.35,689.53" fill="none" stroke="#2b2b2b" stroke-width="1.2" stroke-linejoin="round"/>
<polyline points="170.30,798.75 170.31,798.73 170.35,798.67 170.42,798.57 170.51,798.43 170.63,798.25 170.77,798.03 170.95,797.77 171.14,797.47 171.37,797.14 171.62,796.77 171.89,796.37 172.20,795.94 172.53,795.47 172.88,794.97 173.26,794.44 173.67,793.89 174.10,793.30 174.57,792.70 175.05,792.06 175.57,791.41 176.11,790.74 176.67,790.04 177.26,789.33 177.88,788.60 178.53,787.86 179.20,787.11 179.90,786.34 180.62,785.56 181.37,784.77 182.15,783.98 182.95,783.18 183.78,782.38 184.64,781.57 185.52,780.75 186.43,779.94 187.36,779.13 188.32,778.31 189.31,777.50 190.33,776.69 191.37,775.88 192.43,775.08 193.52,774.28 194.64,773.48 195.79,772.69 196.96,771.91 198.16,771.13 199.38,770.36 200.63,769.60 201.91,768.84 203.21,768.10 204.54,767.36 205.90,766.63 207.28,765.91 208.69,765.20 210.13,764.50 211.59,763.81 213.08,763.13 214.59,762.46 216.13,761.80 217.70,761.15 219.29,760.51 220.91,759.88 222.55,759.25 224.23,758.64 225.93,758.04 227.65,757.45 229.40,756.87 231.18,756.30 232.98,755.74 234.81,755.19 236.67,754.65 238.55,754.12 240.46,753.60 242.40,753.08 244.36,752.58 246.35,752.09 248.36,751.60 250.40,751.13 252.47,750.66 254.56,750.20 256.68,749.75 258.83,749.31 261.00,748.88 263.20,748.45 265.42,748.03 267.67,747.62 269.95,747.22 272.26,746.83 274.59,746.44 276.94,746.06 279.33,745.69 281.73,745.32 284.17,744.97 286.63,744.61 289.12,744.27 291.64,743.93 294.18,743.60 296.74,743.27 299.34,742.95 301.96,742.64 304.60,742.33 307.28,742.03 309.98,741.73 312.70,741.44 315.45,741.16 318.23,740.88 321.03,740.60 323.86,740.33 326.72,740.07 329.61,739.81 332.51,739.55 335.45,739.30 338.41,739.06 341.40,738.82 344.42,738.58 347.46,738.35 350.53,738.12 353.62,737.89 356.74,737.67 359.89,737.46 363.06,737.24 366.26,737.03 369.48,736.83 372.74,736.63 376.01,736.43 379.32,736.24 382.65,736.04 386.01,735.86 389.39,735.67 392.80,735.49 396.24,735.31 399.70,735.14 403.19,734.96 406.70,734.80 410.25,734.63 413.81,734.47 417.41,734.31 421.03,734.15 424.67,733.99 428.35,733.84" fill="none" stroke="#2b2b2b" stroke-width="1.2" stroke-linejoin="round"/>
<line x1="178.36" y1="783.76" x2="178.36" y2="810.74" stroke="#2b2b2b" stroke-width="1.15" />
<line x1="174.86" y1="783.76" x2="181.86" y2="783.76" stroke="#2b2b2b" stroke-width="1.15" />
<line x1="174.86" y1="810.74" x2="181.86" y2="810.74" stroke="#2b2b2b" stroke-width="1.15" />
<line x1="186.43" y1="751.80" x2="186.43" y2="815.00" stroke="#2b2b2b" stroke-width="1.15" />
<line x1="182.93" y1="751.80" x2="189.93" y2="751.80" stroke="#2b2b2b" stroke-width="1.15" />
<line x1="202.56" y1="754.46" x2="202.56" y2="779.94" stroke="#2b2b2b" stroke-width="1.15" />
<line x1="199.06" y1="754.46" x2="206.06" y2="754.46" stroke="#2b2b2b" stroke-width="1.15" />
<line x1="199.06" y1="779.94" x2="206.06" y2="779.94" stroke="#2b2b2b" stroke-width="1.15" />
<line x1="234.81" y1="729.99" x2="234.81" y2="765.45" stroke="#2b2b2b" stroke-width="1.15" />
<line x1="231.31" y1="729.99" x2="238.31" y2="729.99" stroke="#2b2b2b" stroke-width="1.15" />
<line x1="231.31" y1="765.45" x2="238.31" y2="765.45" stroke="#2b2b2b" stroke-width="1.15" />
<line x1="299.32" y1="721.83" x2="299.32" y2="760.46" stroke="#2b2b2b" stroke-width="1.15" />
<line x1="295.82" y1="721.83" x2="302.82" y2="721.83" stroke="#2b2b2b" stroke-width="1.15" />
<line x1="295.82" y1="760.46" x2="302.82" y2="760.46" stroke="#2b2b2b" stroke-width="1.15" />
<line x1="428.35" y1="725.82" x2="428.35" y2="746.80" stroke="#2b2b2b" stroke-width="1.15" />
<line x1="424.85" y1="725.82" x2="431.85" y2="725.82" stroke="#2b2b2b" stroke-width="1.15" />
<line x1="424.85" y1="746.80" x2="431.85" y2="746.80" stroke="#2b2b2b" stroke-width="1.15" />
<line x1="178.36" y1="783.76" x2="178.36" y2="810.74" stroke="#2b2b2b" stroke-width="1.15" />
<line x1="174.86" y1="783.76" x2="181.86" y2="783.76" stroke="#2b2b2b" stroke-width="1.15" />
<line x1="174.86" y1="810.74" x2="181.86" y2="810.74" stroke="#2b2b2b" stroke-width="1.15" />
<line x1="186.43" y1="737.48" x2="186.43" y2="751.80" stroke="#2b2b2b" stroke-width="1.15" />
<line x1="182.93" y1="737.48" x2="189.93" y2="737.48" stroke="#2b2b2b" stroke-width="1.15" />
<line x1="182.93" y1="751.80" x2="189.93" y2="751.80" stroke="#2b2b2b" stroke-width="1.15" />
<line x1="202.56" y1="729.49" x2="202.56" y2="743.80" stroke="#2b2b2b" stroke-width="1.15" />
<line x1="199.06" y1="729.49" x2="206.06" y2="729.49" stroke="#2b2b2b" stroke-width="1.15" />
<line x1="199.06" y1="743.80" x2="206.06" y2="743.80" stroke="#2b2b2b" stroke-width="1.15" />
<line x1="234.81" y1="694.19" x2="234.81" y2="720.00" stroke="#2b2b2b" stroke-width="1.15" />
<line x1="231.31" y1="694.19" x2="238.31" y2="694.19" stroke="#2b2b2b" stroke-width="1.15" />
<line x1="231.31" y1="720.00" x2="238.31" y2="720.00" stroke="#2b2b2b" stroke-width="1.15" />
<line x1="299.32" y1="688.03" x2="299.32" y2="698.02" stroke="#2b2b2b" stroke-width="1.15" />
<line x1="295.82" y1="688.03" x2="302.82" y2="688.03" stroke="#2b2b2b" stroke-width="1.15" />
<line x1="295.82" y1="698.02" x2="302.82" y2="698.02" stroke="#2b2b2b" stroke-width="1.15" />
<line x1="428.35" y1="678.87" x2="428.35" y2="714.50" stroke="#2b2b2b" stroke-width="1.15" />
<line x1="424.85" y1="678.87" x2="431.85" y2="678.87" stroke="#2b2b2b" stroke-width="1.15" />
<line x1="424.85" y1="714.50" x2="431.85" y2="714.50" stroke="#2b2b2b" stroke-width="1.15" />
<line x1="186.43" y1="685.53" x2="186.43" y2="701.68" stroke="#2b2b2b" stroke-width="1.15" />
<line x1="182.93" y1="685.53" x2="189.93" y2="685.53" stroke="#2b2b2b" stroke-width="1.15" />
<line x1="182.93" y1="701.68" x2="189.93" y2="701.68" stroke="#2b2b2b" stroke-width="1.15" />
<line x1="202.56" y1="686.03" x2="202.56" y2="716.50" stroke="#2b2b2b" stroke-width="1.15" />
<line x1="199.06" y1="686.03" x2="206.06" y2="686.03" stroke="#2b2b2b" stroke-width="1.15" />
<line x1="199.06" y1="716.50" x2="206.06" y2="716.50" stroke="#2b2b2b" stroke-width="1.15" />
<line x1="234.81" y1="667.55" x2="234.81" y2="685.03" stroke="#2b2b2b" stroke-width="1.15" />
<line x1="231.31" y1="667.55" x2="238.31" y2="667.55" stroke="#2b2b2b" stroke-width="1.15" />
<line x1="231.31" y1="685.03" x2="238.31" y2="685.03" stroke="#2b2b2b" stroke-width="1.15" />
<line x1="428.35" y1="661.22" x2="428.35" y2="669.55" stroke="#2b2b2b" stroke-width="1.15" />
<line x1="424.85" y1="661.22" x2="431.85" y2="661.22" stroke="#2b2b2b" stroke-width="1.15" />
<line x1="424.85" y1="669.55" x2="431.85" y2="669.55" stroke="#2b2b2b" stroke-width="1.15" />
<polygon points="175.11,795.75 181.61,795.75 178.36,801.75" fill="#000"/>
<polygon points="183.18,784.10 189.68,784.10 186.43,790.10" fill="#000"/>
<polygon points="199.31,763.78 205.81,763.78 202.56,769.78" fill="#000"/>
<polygon points="231.56,745.80 238.06,745.80 234.81,751.80" fill="#000"/>
<polygon points="296.07,736.98 302.57,736.98 299.32,742.98" fill="#000"/>
<polygon points="425.10,732.48 431.60,732.48 428.35,738.48" fill="#000"/>
<polygon points="175.11,801.75 181.61,801.75 178.36,795.75" fill="#000"/>
<polygon points="183.18,748.47 189.68,748.47 186.43,742.47" fill="#000"/>
<polygon points="199.31,740.48 205.81,740.48 202.56,734.48" fill="#000"/>
<polygon points="231.56,710.51 238.06,710.51 234.81,704.51" fill="#000"/>
<polygon points="296.07,696.02 302.57,696.02 299.32,690.02" fill="#000"/>
<polygon points="425.10,699.69 431.60,699.69 428.35,693.69" fill="#000"/>
<rect x="167.05" y="795.50" width="6.5" height="6.5" fill="#000"/>
<rect x="175.11" y="737.23" width="6.5" height="6.5" fill="#000"/>
<rect x="183.18" y="690.27" width="6.5" height="6.5" fill="#000"/>
<rect x="199.31" y="698.43" width="6.5" height="6.5" fill="#000"/>
<rect x="231.56" y="672.96" width="6.5" height="6.5" fill="#000"/>
<rect x="296.07" y="663.47" width="6.5" height="6.5" fill="#000"/>
<rect x="425.10" y="662.30" width="6.5" height="6.5" fill="#000"/>
<rect x="381.95" y="769.85" width="6.5" height="6.5" fill="#000"/>
<polygon points="382.25,790.00 388.55,790.00 385.40,784.40" fill="#000"/>
<polygon points="382.25,798.50 388.55,798.50 385.40,804.10" fill="#000"/>
<text x="400.00" y="775.70" font-size="13" font-weight="bold" stroke="#111" stroke-width="0.4" text-anchor="start">fVIII<tspan font-size="10" dy="4.1">WT</tspan></text>
<text x="400.00" y="789.50" font-size="13" font-weight="bold" stroke="#111" stroke-width="0.4" text-anchor="start">fVIII<tspan font-size="10" dy="4.1">WW</tspan></text>
<text x="400.00" y="803.40" font-size="13" font-weight="bold" stroke="#111" stroke-width="0.4" text-anchor="start">fVIII<tspan font-size="10" dy="4.1">LS</tspan></text>
</svg>
</body></html>
